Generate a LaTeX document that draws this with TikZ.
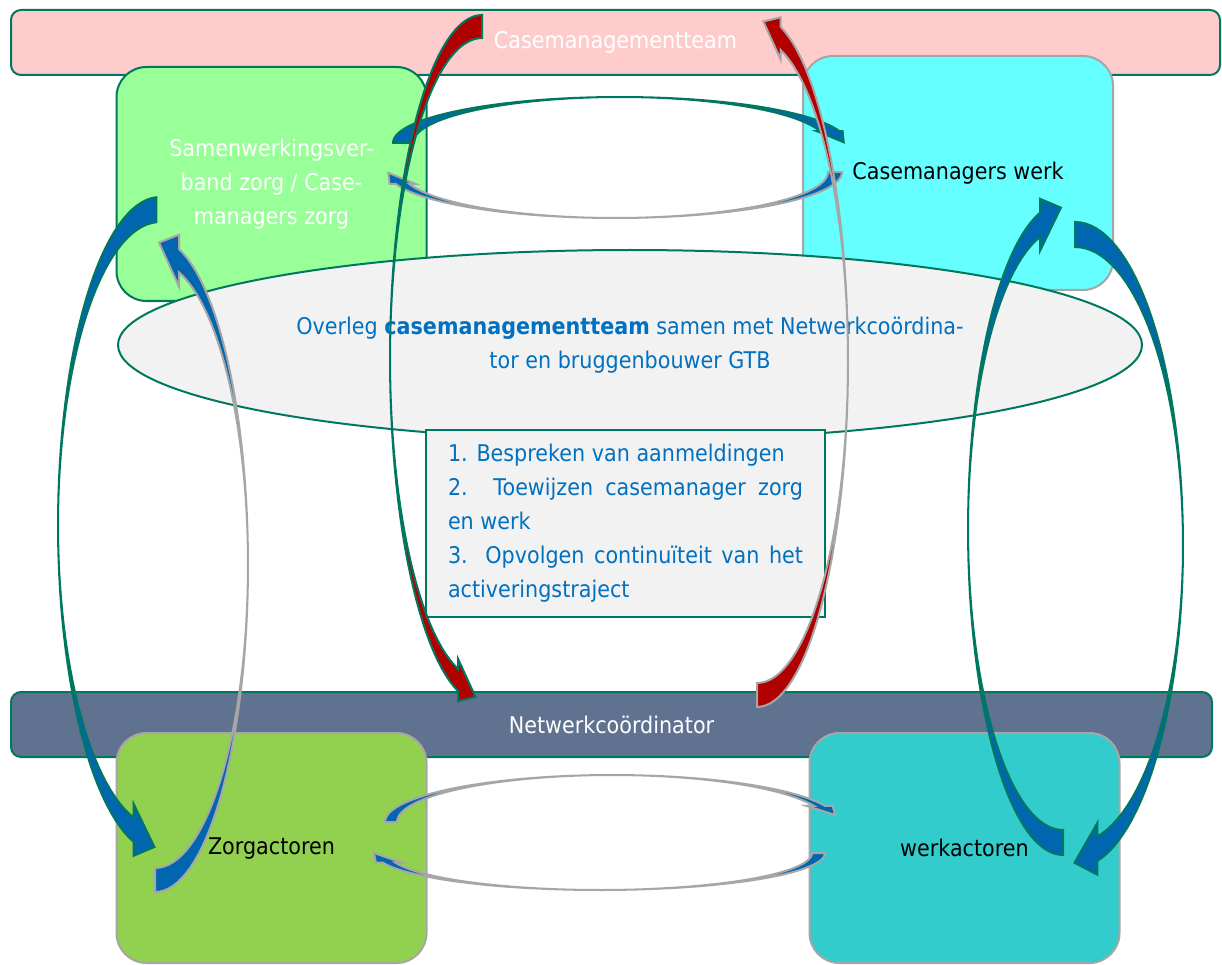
\documentclass[tikz,border=0pt]{standalone}
\usepackage{fontspec}
\setmainfont{DejaVu Sans}[FakeStretch=0.9]
\usetikzlibrary{shapes.geometric}

\definecolor{lineteal}{HTML}{00785F}
\definecolor{linegrey}{HTML}{A6A6A6}
\definecolor{bandblue}{HTML}{0066B0}
\definecolor{bandred}{HTML}{B00000}
\definecolor{cmtpink}{HTML}{FFCCCC}
\definecolor{samgreen}{HTML}{99FF99}
\definecolor{werkcyan}{HTML}{66FFFF}
\definecolor{ovlgrey}{HTML}{F2F2F2}
\definecolor{netblue}{HTML}{5F7290}
\definecolor{zorggreen}{HTML}{92D050}
\definecolor{actteal}{HTML}{33CCCC}
\definecolor{txtblue}{HTML}{0070C0}

\tikzset{
  roundbox/.style={draw, line width=2pt, rounded corners=30pt, minimum width=310pt,
    minimum height=234pt, align=center},
  bandbar/.style={draw=lineteal, line width=2pt, rounded corners=10pt, text=white},
  tealband/.style={draw=lineteal, line width=2pt, fill=bandblue},
  greyband/.style={draw=linegrey, line width=2pt, fill=bandblue},
  tealred/.style={draw=lineteal, line width=2pt, fill=bandred},
  greyred/.style={draw=linegrey, line width=2pt, fill=bandred}
}

% curved block arrow: style, centre x, centre y, outer rx, ry, inner rx, ry, tail angle, neck angle
\newcommand{\bentarrow}[9]{%
  \pgfmathsetmacro\bas{sign(#9-#8)}%
  \pgfmathsetmacro\baox{#2+#4*cos(#9)}%
  \pgfmathsetmacro\baoy{#3+#5*sin(#9)}%
  \pgfmathsetmacro\baix{#2+#6*cos(#9)}%
  \pgfmathsetmacro\baiy{#3+#7*sin(#9)}%
  \pgfmathsetmacro\bamx{(\baox+\baix)/2}%
  \pgfmathsetmacro\bamy{(\baoy+\baiy)/2}%
  \pgfmathsetmacro\banl{veclen(\baox-\baix,\baoy-\baiy)}%
  \pgfmathsetmacro\banx{(\baox-\baix)/\banl}%
  \pgfmathsetmacro\bany{(\baoy-\baiy)/\banl}%
  \pgfmathsetmacro\badx{-1*(\bas)*(#4+#6)/2*sin(#9)}%
  \pgfmathsetmacro\bady{(\bas)*(#5+#7)/2*cos(#9)}%
  \pgfmathsetmacro\badl{veclen(\badx,\bady)}%
  \draw[#1] plot[domain=#8:#9,samples=60] ({#2+#4*cos(\x)},{#3+#5*sin(\x)})
    -- ({\bamx+\headw*(\banx)},{\bamy+\headw*(\bany)})
    -- ({\bamx+\headl*(\badx)/\badl},{\bamy+\headl*(\bady)/\badl})
    -- ({\bamx-\headw*(\banx)},{\bamy-\headw*(\bany)})
    -- plot[domain=#9:#8,samples=60] ({#2+#6*cos(\x)},{#3+#7*sin(\x)}) -- cycle;
}

\begin{document}
\begin{tikzpicture}[x=1pt, y=-1pt, every node/.style={font=\fontsize{23}{34}\selectfont}]
\path[use as bounding box, fill=white] (0,0) rectangle (1222,965);

\node[bandbar, fill=cmtpink, minimum width=1209pt, minimum height=65pt] (cmt) at (615.5,42.5) {Casemanagementteam};
\node[roundbox, draw=lineteal, fill=samgreen, text=white] (samen) at (271.5,184) {Samenwerkingsver-\\band zorg / Case-\\managers zorg};
\node[roundbox, draw=linegrey, fill=werkcyan] (cmwerk) at (958,173) {Casemanagers werk};
\node[ellipse, draw=lineteal, line width=2pt, fill=ovlgrey, minimum width=1024pt, minimum height=190pt,
  align=center, text=txtblue] (overleg) at (630,345)
  {Overleg \textbf{casemanagementteam} samen met Netwerkcoördina-\\tor en bruggenbouwer GTB};
\node[draw=lineteal, line width=2pt, fill=ovlgrey, minimum width=399pt, minimum height=187pt,
  align=left, text=txtblue] (taken) at (625.5,523.5)
  {1. Bespreken van aanmeldingen\\\makebox[355pt][s]{2. Toewijzen casemanager zorg}\\en werk\\
   \makebox[355pt][s]{3. Opvolgen continuïteit van het}\\activeringstraject};

\node[bandbar, fill=netblue, minimum width=1201pt, minimum height=65pt] (netw) at (611.5,724.5) {Netwerkcoördinator};
\node[roundbox, draw=linegrey, fill=zorggreen, minimum height=230pt] (zorg) at (271.5,848) {Zorgactoren};
\node[roundbox, draw=linegrey, fill=actteal, minimum height=230pt] (werkact) at (964.5,848) {werkactoren};

% samenwerkingsverband <-> casemanagers werk, zorg <-> werk
\def\headw{13}\def\headl{18}
\bentarrow{tealband}{620}{143}{227}{46}{207}{46}{180}{345}
\bentarrow{greyband}{615}{172}{227}{46}{213}{46}{0}{165}
\bentarrow{greyband}{612}{822}{227}{47}{215}{47}{180}{340}
\bentarrow{greyband}{600}{853}{225}{37}{212}{37}{0}{165}

% verticale pijlen
\def\headw{26}\def\headl{27}
\bentarrow{tealband}{160}{525}{102}{328}{102}{303}{268}{105}
\bentarrow{greyband}{155}{565}{93}{327}{93}{303}{90}{-75}
\bentarrow{tealband}{1075}{545}{108}{323}{108}{298}{-90}{78}
\bentarrow{tealband}{1063}{529}{95}{326}{95}{301}{90}{256}

% casemanagementteam <-> netwerkcoordinator
\def\headw{21}\def\headl{24}
\bentarrow{tealred}{482}{359}{92}{344}{92}{321}{270}{105}
\bentarrow{greyred}{757}{361}{91}{346}{91}{322}{90}{-75}
\end{tikzpicture}
\end{document}
